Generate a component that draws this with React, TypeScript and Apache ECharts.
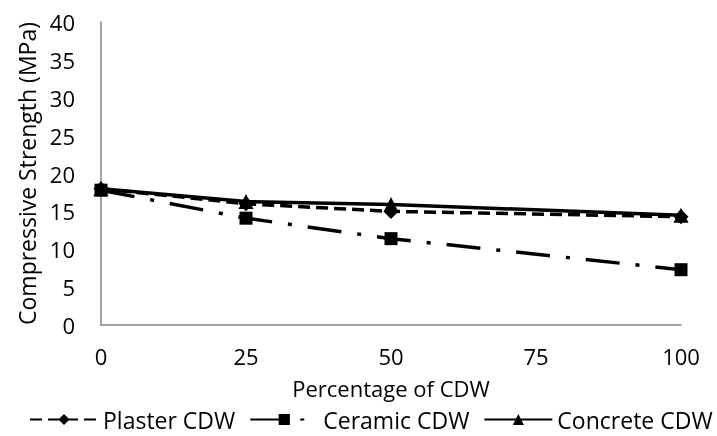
import React, { useEffect, useRef } from "react";
import * as echarts from "echarts";

const xValues = [0, 25, 50, 100];
const plaster = [18.0, 16.0, 15.0, 14.3];
const ceramic = [17.8, 14.1, 11.4, 7.3];
const concrete = [18.0, 16.3, 15.9, 14.5];
const seriesNames = ["Plaster CDW", "Ceramic CDW", "Concrete CDW"];

const FONT = "Open Sans";

export default function App() {
  const ref = useRef<HTMLDivElement>(null);
  useEffect(() => {
    if (!ref.current) return;
    const chart = echarts.init(ref.current, null, { renderer: "svg" });
    const pair = (ys: number[]) => xValues.map((x, i) => [x, ys[i]]);
    chart.setOption({
      animation: false,
      textStyle: { fontFamily: FONT, color: "#000" },
      grid: { left: 101, right: 36, top: 22, bottom: 111 },
      xAxis: {
        type: "value",
        min: 0,
        max: 100,
        interval: 25,
        name: "Percentage of CDW",
        nameLocation: "middle",
        nameGap: 52,
        nameTextStyle: { fontSize: 22, color: "#000", fontFamily: FONT },
        axisLine: { show: true, lineStyle: { color: "#868686", width: 1.5 } },
        axisTick: { show: false },
        splitLine: { show: false },
        axisLabel: { fontSize: 22, color: "#000", margin: 20, fontFamily: FONT },
      },
      yAxis: {
        type: "value",
        min: 0,
        max: 40,
        interval: 5,
        name: "Compressive Strength (MPa)",
        nameLocation: "middle",
        nameGap: 63,
        nameTextStyle: { fontSize: 23, color: "#000", fontFamily: FONT },
        axisLine: { show: true, lineStyle: { color: "#868686", width: 1.5 } },
        axisTick: { show: false },
        splitLine: { show: false },
        axisLabel: { fontSize: 22, color: "#000", margin: 26, fontFamily: FONT },
      },
      legend: {
        data: seriesNames,
        bottom: 5,
        left: 29,
        width: 690,
        padding: 0,
        itemWidth: 68,
        itemHeight: 14,
        itemGap: 14,
        textStyle: { fontSize: 23, color: "#000", fontFamily: FONT },
      },
      series: [
        {
          name: seriesNames[0],
          type: "line",
          data: pair(plaster),
          symbol: "diamond",
          symbolSize: 15,
          itemStyle: { color: "#000" },
          lineStyle: { color: "#000", width: 3.5, type: [12, 6] },
        },
        {
          name: seriesNames[1],
          type: "line",
          data: pair(ceramic),
          symbol: "rect",
          symbolSize: 13,
          itemStyle: { color: "#000" },
          lineStyle: { color: "#000", width: 3.5, type: [34, 16, 4, 16] },
        },
        {
          name: seriesNames[2],
          type: "line",
          data: pair(concrete),
          symbol: "triangle",
          symbolSize: 15,
          itemStyle: { color: "#000" },
          lineStyle: { color: "#000", width: 3.5, type: "solid" },
        },
      ],
    });
    return () => chart.dispose();
  }, []);
  return (
    <div
      ref={ref}
      style={{ position: "fixed", left: 0, top: 0, width: 717, height: 436 }}
    />
  );
}
